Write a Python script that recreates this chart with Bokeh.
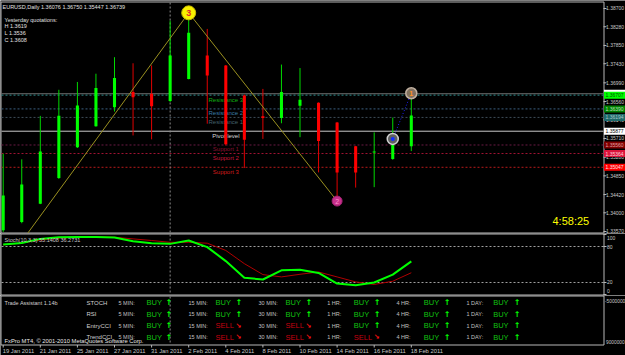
from bokeh.plotting import figure
from bokeh.layouts import column
from bokeh.models import Range1d
from bokeh.core.properties import value
from bokeh.embed import file_html
from bokeh.resources import INLINE

# ---------------- data ----------------
symbol_title = "EURUSD,Daily"
title_ohlc = ["1.36076", "1.36750", "1.35447", "1.36739"]
yesterday_lines = ["Yesterday quotations:", "H 1.3619", "L 1.3536", "C 1.3608"]

bar_idx = list(range(23))
opens = [1.3360, 1.3379, 1.3421, 1.3480, 1.3551, 1.3599, 1.3643, 1.3678, 1.3674, 1.3657, 1.3708, 1.3762,
         1.3739, 1.3670, 1.3622, 1.3618, 1.3646, 1.3653, 1.3608, 1.3553, 1.3539, 1.3524, 1.3553]
highs = [1.3536, 1.3523, 1.3623, 1.3683, 1.3701, 1.3720, 1.3758, 1.3744, 1.3739, 1.3842, 1.3860, 1.3823,
         1.3740, 1.3672, 1.3685, 1.3741, 1.3733, 1.3654, 1.3609, 1.3554, 1.3585, 1.3619, 1.3675]
lows = [1.3356, 1.3376, 1.3420, 1.3478, 1.3549, 1.3598, 1.3633, 1.3578, 1.3569, 1.3655, 1.3707, 1.3605,
        1.3555, 1.3503, 1.3570, 1.3606, 1.3574, 1.3493, 1.3427, 1.3458, 1.3459, 1.3522, 1.3542]
closes = [1.3440, 1.3465, 1.3541, 1.3623, 1.3647, 1.3687, 1.3710, 1.3666, 1.3645, 1.3762, 1.3814, 1.3716,
          1.3558, 1.3568, 1.3618, 1.3678, 1.3660, 1.3565, 1.3493, 1.3493, 1.3541, 1.3566, 1.3624]

date_tick_idx = [0, 2, 4, 6, 8, 10, 12, 14, 16, 18, 20, 22]
date_tick_labels = ["19 Jan 2011", "21 Jan 2011", "25 Jan 2011", "27 Jan 2011", "31 Jan 2011", "2 Feb 2011",
                    "4 Feb 2011", "8 Feb 2011", "10 Feb 2011", "14 Feb 2011", "16 Feb 2011", "18 Feb 2011"]
separator_idx = 9

price_ticks = [1.38700, 1.38280, 1.37850, 1.37430, 1.36990, 1.36560, 1.36140, 1.35710, 1.35280,
               1.34850, 1.34420, 1.34000, 1.33570]

pivot_names = ["Resistance 3", "Resistance 2", "Resistance 1", "Pivot level", "Support 1", "Support 2", "Support 3"]
pivot_values = [1.36707, 1.36390, 1.36194, 1.35877, 1.35560, 1.35364, 1.35047]
pivot_label_idx = 12
bid_price = 1.36739

zigzag_idx = [-7, 10, 18]
zigzag_price = [1.2867, 1.3860, 1.3427]
wave_idx = [10, 18]
wave_price = [1.3860, 1.3427]
wave_text = ["3", "2"]
signal_idx = [21, 22]
signal_price = [1.3570, 1.3675]

clock_text = "4:58:25"

stoch_title = "Stoch(10,3,3) 55.1408 36.2731"
stoch_main = [83.3, 86.0, 92.7, 95.4, 96.0, 96.0, 95.0, 88.8, 85.5, 84.4, 90.0, 79.0, 55.7, 28.0, 25.0,
              40.3, 41.4, 36.0, 18.3, 15.5, 20.0, 33.2, 55.14]
stoch_signal = [82.7, 86.0, 90.6, 94.0, 95.4, 96.0, 95.4, 92.7, 90.0, 87.0, 87.0, 85.5, 73.4, 51.4, 33.2,
                29.3, 33.7, 37.5, 29.3, 21.0, 16.7, 22.1, 36.27]
stoch_levels = [80, 20]
stoch_ticks = [100, 80, 20, 0]

ta_title = "Trade Assistant 1.14b"
ta_indicators = ["STOCH", "RSI", "EntryCCI", "TrendCCI"]
ta_timeframes = ["5 MIN:", "15 MIN:", "30 MIN:", "1 HR:", "4 HR:", "1 DAY:"]
ta_signals = [["BUY", "BUY", "BUY", "BUY", "BUY", "BUY"],
              ["BUY", "BUY", "BUY", "BUY", "BUY", "BUY"],
              ["BUY", "SELL", "SELL", "BUY", "BUY", "BUY"],
              ["BUY", "SELL", "SELL", "SELL", "BUY", "BUY"]]
ta_axis_labels = ["-5000000", "9000000"]
copyright_text = "FxPro MT4, \u00a9 2001-2010 MetaQuotes Software Corp."

# ---------------- layout / style ----------------
FONT = "Liberation Sans"
W = 625
PANE_R = 603
BAR_PX = 18.55
X_START = -0.1456
X_END = X_START + W / BAR_PX
BORDER = "#b8b8b8"
AXTXT = "#c8c8c8"
AX_FS = 5


def bx(px):
    return X_START + px / BAR_PX


MAIN_H = 233
P_TOP = 1.38884
P_BOT = 1.33524


def py(pix):
    return P_TOP - pix * (P_TOP - P_BOT) / MAIN_H


ST_H = 62
ST_TOP = 101.67
ST_BOT = -1.67


def sy(pix):
    return ST_TOP - pix * (ST_TOP - ST_BOT) / ST_H


TA_H = 60


def make_fig(h, yr):
    f = figure(width=W, height=h, x_range=Range1d(X_START, X_END), y_range=yr,
               output_backend="svg", toolbar_location=None, title=None,
               x_axis_location=None, y_axis_location=None,
               min_border=0, min_border_left=0, min_border_right=0, min_border_top=0, min_border_bottom=0,
               background_fill_color="#000000", border_fill_color="#000000", outline_line_color=None)
    f.xgrid.grid_line_color = None
    f.ygrid.grid_line_color = None
    return f


def txt(f, x, y, s, color, size, align="left", baseline="middle", style="normal", font=FONT, xo=0, yo=0):
    f.text(x=x, y=y, text=s, text_color=color, text_font=value(font),
           text_font_size=value(f"{size}px"), text_align=value(align), text_baseline=value(baseline),
           text_font_style=value(style), x_offset=xo, y_offset=yo)


# ================= main pane =================
main = make_fig(MAIN_H, Range1d(P_BOT, P_TOP))
main.quad(left=[bx(0.5)], right=[bx(PANE_R + 0.5)], top=[py(1.5)], bottom=[py(232.5)],
          fill_color=None, line_color=BORDER, line_width=1)

# pivot lines
line_cols = ["#2c8c8c", "#3a5f80", "#3e4c58", "#c8c8c8", "#6a1a44", "#a01232", "#b81a1a"]
line_dash = ["2 2", "2 2", "2 2", "solid", "2 2", "2 2", "2 2"]
text_cols = ["#10b010", "#3a7ca8", "#44606e", "#d8d8d8", "#8a1030", "#c8183c", "#d01c1c"]
box_cols = ["#00ff00", "#008000", "#1f6a6a", "#ffffff", "#800000", "#dc143c", "#ff0000"]
box_txt = ["#005000", "#b8e0b8", "#a8c8c8", "#000000", "#e0a0a0", "#ffd0d8", "#ffe0e0"]

main.segment(x0=[bx(1)], x1=[bx(PANE_R)], y0=[bid_price], y1=[bid_price], line_color="#707070", line_width=1)
for i, v in enumerate(pivot_values):
    main.segment(x0=[bx(1)], x1=[bx(PANE_R)], y0=[v], y1=[v], line_color=line_cols[i],
                 line_dash=line_dash[i], line_width=1)
    txt(main, [pivot_label_idx], [v], [pivot_names[i]], text_cols[i], 6, align="center", baseline="top", yo=1.5)

# separator
main.segment(x0=[separator_idx], x1=[separator_idx], y0=[py(2)], y1=[py(232)], line_color="#8a8a8a",
             line_dash="2 2", line_width=1)

# candles
bull = [c >= o for o, c in zip(opens, closes)]
wick_col = ["#00d800" if b else "#e00000" for b in bull]
body_col = ["#00ff00" if b else "#ff0000" for b in bull]
main.segment(x0=bar_idx, x1=bar_idx, y0=lows, y1=highs, line_color=wick_col, line_width=1)
main.vbar(x=bar_idx, width=0.165, top=[max(o, c) for o, c in zip(opens, closes)],
          bottom=[min(o, c) for o, c in zip(opens, closes)], fill_color=body_col, line_color=None)

# zigzag
main.line(x=zigzag_idx, y=zigzag_price, line_color="#9a9020", line_width=1)
main.scatter(x=[wave_idx[0]], y=[wave_price[0]], size=14, marker="circle", fill_color="#f8f000",
             line_color="#c8b800")
txt(main, [wave_idx[0]], [wave_price[0]], [wave_text[0]], "#e02828", 9, align="center", style="bold")
main.scatter(x=[wave_idx[1]], y=[wave_price[1]], size=10, marker="circle", fill_color="#c8308c",
             line_color="#a02070")
txt(main, [wave_idx[1]], [wave_price[1]], [wave_text[1]], "#ff90c8", 7, align="center")

main.line(x=signal_idx, y=signal_price, line_color="#2020ff", line_dash="1 2", line_width=1)
main.scatter(x=[signal_idx[0]], y=[signal_price[0]], size=11, marker="circle", fill_color="#606060",
             line_color="#d0d0d0", line_width=1.5)
main.scatter(x=[signal_idx[0]], y=[signal_price[0]], size=4, marker="circle", fill_color="#1030ff",
             line_color=None)
main.scatter(x=[signal_idx[1]], y=[signal_price[1]], size=11, marker="circle", fill_color="#807060",
             line_color="#c0b0a0", line_width=1.5)
txt(main, [signal_idx[1]], [signal_price[1]], ["1"], "#ff9020", 7, align="center", style="bold")

# header texts
txt(main, [bx(2)], [py(6)], [symbol_title + "  " + " ".join(title_ohlc)], "#e0e0e0", 5.5)
for k, s in enumerate(yesterday_lines):
    txt(main, [bx(4)], [py(19 + 6.7 * k)], [s], "#e0e0e0", 5.5)

# clock
txt(main, [bx(552)], [py(220)], [clock_text], "#ffff00", 11)

# right price scale
main.segment(x0=[bx(PANE_R)] * len(price_ticks), x1=[bx(PANE_R + 3)] * len(price_ticks),
             y0=price_ticks, y1=price_ticks, line_color=BORDER)
txt(main, [bx(605.5)] * (len(price_ticks) - 1), price_ticks[:-1],
    [f"{v:.5f}" for v in price_ticks[:-1]], AXTXT, AX_FS)
txt(main, [bx(605.5)], [price_ticks[-1]], [f"{price_ticks[-1]:.5f}"], AXTXT, AX_FS, baseline="bottom", yo=1)

# price boxes
main.rect(x=[bx(614.5)], y=[bid_price], width=22, height=8, width_units="screen", height_units="screen",
          fill_color="#ffffff", line_color=None)
txt(main, [bx(605)], [bid_price], [f"{bid_price:.5f}"], "#000000", AX_FS)
main.rect(x=[bx(614.5)] * len(pivot_values), y=pivot_values, width=22, height=7, width_units="screen",
          height_units="screen", fill_color=box_cols, line_color=None)
for i, v in enumerate(pivot_values):
    txt(main, [bx(605)], [v], [f"{v:.5f}"], box_txt[i], AX_FS)

# ================= stochastic pane =================
st = make_fig(ST_H, Range1d(ST_BOT, ST_TOP))
st.quad(left=[bx(0.5)], right=[bx(PANE_R + 0.5)], top=[sy(0.5)], bottom=[sy(61.5)],
        fill_color=None, line_color=BORDER, line_width=1)
for lv in stoch_levels:
    st.segment(x0=[bx(1)], x1=[bx(PANE_R)], y0=[lv], y1=[lv], line_color="#a0a0a0", line_dash="2 2")
st.segment(x0=[separator_idx], x1=[separator_idx], y0=[sy(1)], y1=[sy(61)], line_color="#8a8a8a",
           line_dash="2 2")
st.line(x=bar_idx, y=stoch_signal, line_color="#b00000", line_width=1)
st.line(x=bar_idx, y=stoch_main, line_color="#00ff00", line_width=2)
txt(st, [bx(4)], [sy(6.7)], [stoch_title], "#c8c8c8", 5.5)
st.segment(x0=[bx(PANE_R)] * 4, x1=[bx(PANE_R + 3)] * 4, y0=stoch_ticks, y1=stoch_ticks, line_color=BORDER)
txt(st, [bx(606.5)], [stoch_ticks[0]], [str(stoch_ticks[0])], AXTXT, AX_FS, baseline="top", yo=1)
txt(st, [bx(606.5)] * 2, stoch_ticks[1:3], [str(t) for t in stoch_ticks[1:3]], AXTXT, AX_FS)
txt(st, [bx(606.5)], [stoch_ticks[3]], [str(stoch_ticks[3])], AXTXT, AX_FS, baseline="bottom", yo=-1)

# ================= trade assistant pane =================
ta = make_fig(TA_H, Range1d(TA_H, 0))
ta.quad(left=[bx(0.5)], right=[bx(PANE_R + 0.5)], top=[0.5], bottom=[49.5],
        fill_color=None, line_color=BORDER, line_width=1)
ta.segment(x0=[separator_idx], x1=[separator_idx], y0=[1], y1=[49], line_color="#8a8a8a", line_dash="2 2")

ROW_Y0 = 7.3
ROW_DY = 11.45
tf_px = [118, 188, 258, 326.7, 396, 466]
sig_px = [146, 215, 285, 353.3, 423.3, 492.7]
arr_px = [165, 235, 305, 373.3, 443.3, 513.3]

txt(ta, [bx(4)], [ROW_Y0], [ta_title], "#d0d0d0", 5.5)
for r, name in enumerate(ta_indicators):
    yy = ROW_Y0 + ROW_DY * r
    txt(ta, [bx(86)], [yy], [name], "#d0d0d0", 6)
    for c, tf in enumerate(ta_timeframes):
        sgn = ta_signals[r][c]
        txt(ta, [bx(tf_px[c])], [yy], [tf], "#c0c0c0", 5.5)
        if sgn == "BUY":
            txt(ta, [bx(sig_px[c])], [yy], ["BUY"], "#10c010", 7.5)
            txt(ta, [bx(arr_px[c])], [yy], ["\u2191"], "#00ff00", 8, style="bold", font="DejaVu Sans")
        else:
            txt(ta, [bx(sig_px[c])], [yy], ["SELL"], "#c80010", 7.5)
            txt(ta, [bx(arr_px[c])], [yy], ["\u2198"], "#ff1010", 7, style="bold", font="DejaVu Sans")
txt(ta, [bx(4)], [45], [copyright_text], "#e8e8e8", 5.8)

# right labels
txt(ta, [bx(604.5)], [5.2], [ta_axis_labels[0]], AXTXT, 4.8)
txt(ta, [bx(605.5)], [46.5], [ta_axis_labels[1]], AXTXT, 4.8)

# date axis
ta.segment(x0=date_tick_idx, x1=date_tick_idx, y0=[49.5] * len(date_tick_idx), y1=[52] * len(date_tick_idx),
           line_color=BORDER)
txt(ta, date_tick_idx, [55.5] * len(date_tick_idx), date_tick_labels, AXTXT, 5.8, xo=-0.5)

layout = column(main, st, ta, spacing=0)
open("out.html", "w").write(file_html(layout, INLINE))
